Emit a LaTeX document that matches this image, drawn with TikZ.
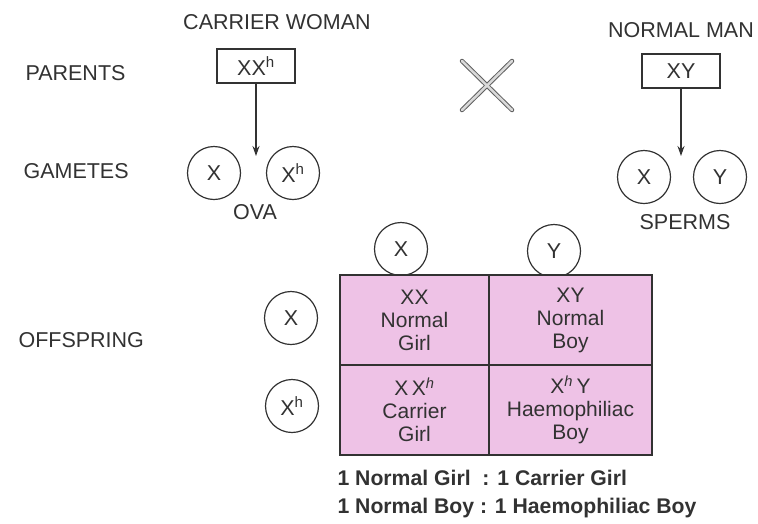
\documentclass[tikz,border=0pt]{standalone}
\usepackage{fontspec}
\setmainfont{Liberation Sans}
\usetikzlibrary{arrows.meta}
\definecolor{ink}{RGB}{50,50,50}
\definecolor{cellpink}{RGB}{238,194,230}
\begin{document}
\begin{tikzpicture}[x=1pt, y=-1pt,
        every node/.style={font=\fontsize{21.5}{22}\selectfont, text=ink},
        L/.style={anchor=west},
        P/.style={draw=ink, line width=1.2pt, minimum width=78pt, minimum height=34pt, inner sep=0pt},
        G/.style={draw=ink, line width=1.2pt, circle, minimum size=53pt, inner sep=0pt},
        C/.style={draw=ink, line width=1.2pt, fill=cellpink, minimum height=90pt,
            inner sep=0pt, align=center, font=\fontsize{21}{23}\selectfont},
        R/.style={anchor=west, font=\bfseries\fontsize{21.2}{22}\selectfont},
        arr/.style={draw=ink, line width=1.2pt, -{Stealth[length=10pt, width=7pt]}}
      ]
      \useasboundingbox (0,0) rectangle (758,523);
      % row titles
      \node [L] (parents) at (22,73) {PARENTS};
      \node [L] (gametes) at (20,171) {GAMETES};
      \node [L] (offspring) at (15,340) {OFFSPRING};
      % parents
      \node (woman) at (277,22) {CARRIER WOMAN};
      \node (man) at (681,30) {NORMAL MAN};
      \node [P] (mother) at (256,66) {XX\textsuperscript{h}};
      \node [P] (father) at (681,71) {XY};
      \draw [draw=gray!75!black, double=gray!30, double distance=2.5pt, line width=1pt, line cap=round]
        (462,61) -- (512,110) (462,110) -- (512,61);
      % gametes
      \coordinate (ovaTip) at (256,156);
      \coordinate (spermTip) at (681,156);
      \draw [arr] (mother) -- (ovaTip);
      \draw [arr] (father) -- (spermTip);
      \node [G] (ovaX) at (214,173) {X};
      \node [G] (ovaXh) at (293,173) {X\textsuperscript{h}};
      \node (ova) at (255,212) {OVA};
      \node [G] (spermX) at (644,177) {X};
      \node [G] (spermY) at (720,177) {Y};
      \node (sperms) at (685,222) {SPERMS};
      % offspring
      \node [G] (topX) at (401,249) {X};
      \node [G] (topY) at (554,251) {Y};
      \node [G] (sideX) at (291,318) {X};
      \node [G] (sideXh) at (292,406) {X\textsuperscript{h}};
      \node [C, minimum width=149pt] (girl) at (414.5,320) {XX\\Normal\\Girl};
      \node [C, minimum width=163pt] (boy) at (570.5,320) {XY\\Normal\\Boy};
      \node [C, minimum width=149pt] (carrier) at (414.5,410) {X\,X\textsuperscript{\itshape h}\\Carrier\\Girl};
      \node [C, minimum width=163pt] (haemo) at (570.5,410) {X\textsuperscript{\itshape h}\,Y\\Haemophiliac\\Boy};
      \node [R] (ratioA) at (334,478) {1 Normal Girl\ \ : 1 Carrier Girl};
      \node [R] (ratioB) at (334,508) {1 Normal Boy : 1 Haemophiliac Boy};
    \end{tikzpicture}
\end{document}
